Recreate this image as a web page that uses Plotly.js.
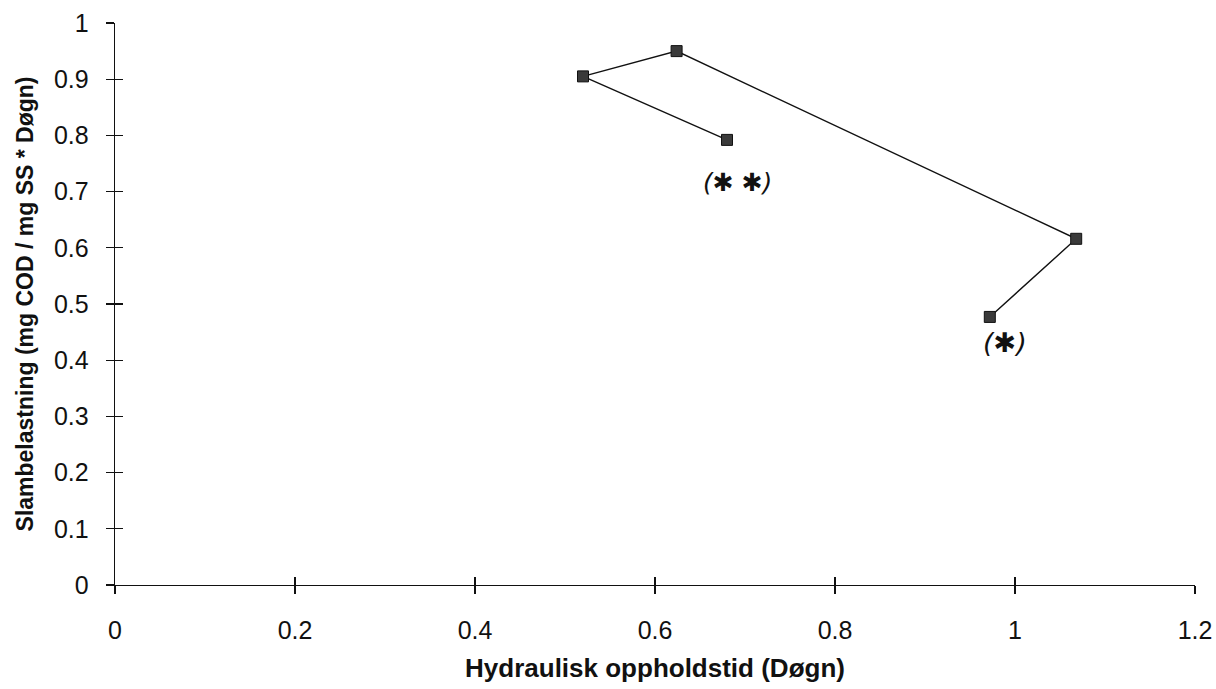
<!DOCTYPE html>
<html>
<head>
<meta charset="utf-8">
<script src="https://cdn.plot.ly/plotly-3.0.1.min.js"></script>
<style>html,body{margin:0;padding:0;background:#fff;}#chart{width:1216px;height:689px;}</style>
</head>
<body>
<div id="chart"></div>
<script>
// Data
const hydraulicTime = [0.68, 0.52, 0.624, 1.068, 0.972];      // Døgn
const sludgeLoad    = [0.792, 0.905, 0.95, 0.616, 0.477];     // mg COD / mg SS * Døgn
const noteLabels = ["(✱ ✱)", "(✱)"];
const noteX = [0.692, 0.989];
const noteY = [0.717, 0.432];
const xTickVals = [0, 0.2, 0.4, 0.6, 0.8, 1, 1.2];
const xTickText = ["0", "0.2", "0.4", "0.6", "0.8", "1", "1.2"];
const yTickVals = [0, 0.1, 0.2, 0.3, 0.4, 0.5, 0.6, 0.7, 0.8, 0.9, 1];
const yTickText = ["0", "0.1", "0.2", "0.3", "0.4", "0.5", "0.6", "0.7", "0.8", "0.9", "1"];

const font = "Liberation Sans, Arial, sans-serif";

const traces = [
  {
    x: hydraulicTime, y: sludgeLoad, type: "scatter", mode: "lines+markers",
    line: {color: "#111", width: 1.4},
    marker: {symbol: "square", size: 11, color: "#3a3a3a", line: {color: "#111", width: 1}},
    hoverinfo: "x+y", showlegend: false, cliponaxis: false
  },
  {
    x: hydraulicTime, y: sludgeLoad, xaxis: "x2", yaxis: "y2", type: "scatter", mode: "markers",
    marker: {opacity: 0}, hoverinfo: "skip", showlegend: false
  }
];

const annotations = noteLabels.map((t, i) => ({
  x: noteX[i], y: noteY[i], xref: "x", yref: "y", text: "<i>" + t + "</i>", showarrow: false,
  font: {family: "DejaVu Sans, sans-serif", size: i === 0 ? 25 : 27, color: "#111"}
}));

const axCommon = {
  showgrid: false, zeroline: false, showline: true, linecolor: "#111", linewidth: 1.3,
  ticks: "outside", ticklen: 8, tickwidth: 1.3, tickcolor: "#111",
  tickfont: {family: font, size: 25, color: "#111"}
};

const layout = {
  width: 1216, height: 689,
  margin: {l: 115, r: 21, t: 23, b: 104},
  paper_bgcolor: "#fff", plot_bgcolor: "#fff",
  font: {family: font, color: "#111"},
  xaxis: Object.assign({}, axCommon, {
    range: [0, 1.2], tickmode: "array", tickvals: xTickVals, ticktext: xTickText,
    ticklabelstandoff: 15,
    title: {text: "<b>Hydraulisk oppholdstid (Døgn)</b>", font: {family: font, size: 26, color: "#111"}, standoff: 15}
  }),
  yaxis: Object.assign({}, axCommon, {
    range: [0, 1], tickmode: "array", tickvals: yTickVals, ticktext: yTickText,
    ticklabelstandoff: 12,
    title: {text: "<b>Slambelastning (mg COD / mg SS * Døgn)</b>", font: {family: font, size: 23, color: "#111"}, standoff: 14}
  }),
  xaxis2: {overlaying: "x", anchor: "y2", range: [0, 1.2], tickmode: "array", tickvals: xTickVals,
    showticklabels: false, ticks: "inside", ticklen: 8, tickwidth: 1.3, tickcolor: "#111",
    showgrid: false, zeroline: false, showline: false},
  yaxis2: {overlaying: "y", anchor: "x2", range: [0, 1], tickmode: "array", tickvals: yTickVals,
    showticklabels: false, ticks: "inside", ticklen: 8, tickwidth: 1.3, tickcolor: "#111",
    showgrid: false, zeroline: false, showline: false},
  annotations: annotations
};

Plotly.newPlot("chart", traces, layout, {displayModeBar: false, staticPlot: true});
</script>
</body>
</html>
